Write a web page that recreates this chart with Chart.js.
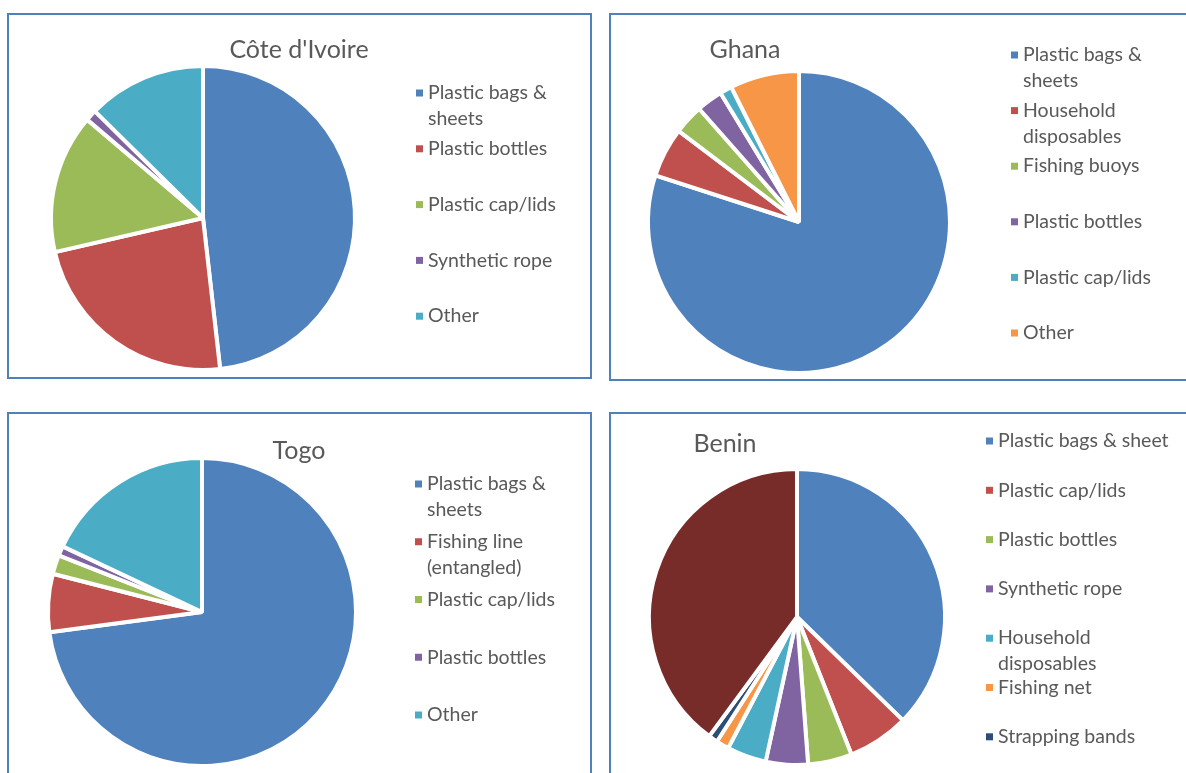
<!DOCTYPE html>
<html>
<head>
<meta charset="utf-8">
<script src="https://cdn.jsdelivr.net/npm/chart.js@4/dist/chart.umd.min.js"></script>
<style>
  html, body { margin: 0; padding: 0; background: #fff; }
  body { width: 1186px; height: 773px; overflow: hidden; position: relative; }
  .panel { position: absolute; box-sizing: border-box; border: 2px solid #4f81bd; background: #fff; overflow: hidden; }
  .panel canvas { position: absolute; left: 0; top: 0; }
</style>
</head>
<body>
<div class="panel" id="p1"><canvas id="chart-civ"></canvas></div>
<div class="panel" id="p2"><canvas id="chart-gha"></canvas></div>
<div class="panel" id="p3"><canvas id="chart-tgo"></canvas></div>
<div class="panel" id="p4"><canvas id="chart-ben"></canvas></div>
<script>
// values in percent
const civLabels = ["Plastic bags & sheets", "Plastic bottles", "Plastic cap/lids", "Synthetic rope", "Other"];
const civValues = [48.2, 23.2, 14.8, 1.2, 12.6];

const ghaLabels = ["Plastic bags & sheets", "Household disposables", "Fishing buoys", "Plastic bottles", "Plastic cap/lids", "Other"];
const ghaValues = [80.0, 5.3, 3.2, 2.8, 1.3, 7.4];

const tgoLabels = ["Plastic bags & sheets", "Fishing line (entangled)", "Plastic cap/lids", "Plastic bottles", "Other"];
const tgoValues = [72.9, 6.1, 2.0, 1.0, 18.0];

const benLabels = ["Plastic bags & sheet", "Plastic cap/lids", "Plastic bottles", "Synthetic rope", "Household disposables", "Fishing net", "Strapping bands", "Other"];
const benValues = [37.3, 6.7, 4.8, 4.6, 4.3, 1.4, 1.0, 39.9];

const palette = ["#4f81bd", "#c0504d", "#9bbb59", "#8064a2", "#4bacc6", "#f79646", "#2c4d75", "#772c2a"];

const FONT = "Lato, 'Open Sans', sans-serif";
const TEXT = "#595959";
const BW = 4;

// page-coordinate layout for each panel
const panels = [
    { id: "p1", canvas: "chart-civ", labels: civLabels, values: civValues, title: "Côte d'Ivoire",
      box: [7, 13, 585, 366], cx: 203, cy: 218, r: 152,
      titleX: 299, titleY: 50, legX: 428, legY: 93, legStep: 55.8, legWrap: 160 },
    { id: "p2", canvas: "chart-gha", labels: ghaLabels, values: ghaValues, title: "Ghana",
      box: [609, 13, 620, 368], cx: 799, cy: 222, r: 151,
      titleX: 745, titleY: 50, legX: 1023, legY: 55, legStep: 55.6, legWrap: 160 },
    { id: "p3", canvas: "chart-tgo", labels: tgoLabels, values: tgoValues, title: "Togo",
      box: [7, 412, 585, 420], cx: 202, cy: 612, r: 154,
      titleX: 299, titleY: 451, legX: 427, legY: 484, legStep: 57.75, legWrap: 160 },
    { id: "p4", canvas: "chart-ben", labels: benLabels, values: benValues, title: "Benin",
      box: [609, 412, 620, 420], cx: 797, cy: 617, r: 148,
      titleX: 725, titleY: 444, legX: 998, legY: 441, legStep: 49.3, legWrap: 178 }
];

function wrapText(ctx, text, maxWidth) {
    const words = text.split(" ");
    const lines = [];
    let line = "";
    words.forEach(w => {
        const test = line ? line + " " + w : w;
        if (line && ctx.measureText(test).width > maxWidth) {
            lines.push(line);
            line = w;
        } else {
            line = test;
        }
    });
    if (line) lines.push(line);
    return lines;
}

// title + excel-style legend drawn on the chart canvas
const sideText = {
    id: "sideText",
    afterDraw(chart, args, opts) {
        const ctx = chart.ctx;
        ctx.save();
        ctx.fillStyle = TEXT;
        ctx.textBaseline = "middle";
        ctx.font = "25px " + FONT;
        ctx.textAlign = "center";
        ctx.fillText(opts.title, opts.titleX, opts.titleY);

        ctx.font = "19.5px " + FONT;
        ctx.textAlign = "left";
        const ds = chart.data.datasets[0];
        chart.data.labels.forEach((label, i) => {
            const y = opts.legY + i * opts.legStep;
            ctx.fillStyle = ds.backgroundColor[i];
            ctx.fillRect(opts.legX - 12, y - 3.5, 7, 7);
            ctx.fillStyle = TEXT;
            wrapText(ctx, label, opts.legWrap).forEach((ln, j) => {
                ctx.fillText(ln, opts.legX, y + j * 26);
            });
        });
        ctx.restore();
    }
};

panels.forEach(p => {
    const el = document.getElementById(p.id);
    const [left, top, w, h] = p.box;
    el.style.left = left + "px";
    el.style.top = top + "px";
    el.style.width = w + "px";
    el.style.height = h + "px";

    const ox = left + 2, oy = top + 2;
    const W = w - 4, H = h - 4;
    const canvas = document.getElementById(p.canvas);
    canvas.width = W;
    canvas.height = H;

    const s = 2 * p.r + BW;
    const lx = p.cx - ox, ly = p.cy - oy;

    new Chart(canvas.getContext("2d"), {
        type: "pie",
        data: {
            labels: p.labels,
            datasets: [{
                data: p.values,
                backgroundColor: palette.slice(0, p.values.length),
                borderColor: "#ffffff",
                borderWidth: BW,
                hoverOffset: 0
            }]
        },
        options: {
            responsive: false,
            animation: false,
            events: [],
            layout: {
                padding: {
                    left: lx - s / 2,
                    top: ly - s / 2,
                    right: W - (lx + s / 2),
                    bottom: H - (ly + s / 2)
                }
            },
            plugins: {
                legend: { display: false },
                tooltip: { enabled: false },
                sideText: {
                    title: p.title,
                    titleX: p.titleX - ox,
                    titleY: p.titleY - oy,
                    legX: p.legX - ox,
                    legY: p.legY - oy,
                    legStep: p.legStep,
                    legWrap: p.legWrap
                }
            }
        },
        plugins: [sideText]
    });
});
</script>
</body>
</html>
